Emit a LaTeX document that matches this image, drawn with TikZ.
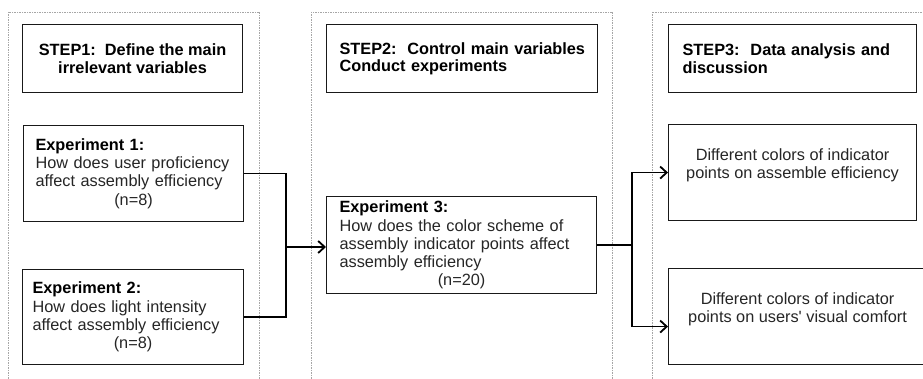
\documentclass[tikz,border=0pt]{standalone}
\usepackage{fontspec}
\newfontfamily\lsans{Liberation Sans}
\setmainfont{Liberation Sans}
\usetikzlibrary{arrows.meta}
\definecolor{txt}{HTML}{262626}
\begin{document}
\begin{tikzpicture}[x=1pt,y=-1pt,
  colbox/.style={draw=black!35, line width=0.6pt, dash pattern=on 1.5pt off 1pt},
  box/.style={draw=black!90, line width=1.1pt, rectangle, anchor=north west, inner sep=0pt,
    font=\lsans\fontsize{16.3}{18.2}\selectfont, text=txt},
  stepbox/.style={box, minimum height=68pt, font=\lsans\fontsize{16.3}{17.5}\selectfont\bfseries, text=black},
  conn/.style={draw=black, line width=1.8pt},
  arr/.style={conn, -{Straight Barb[length=6.5pt,width=12pt]}}
]
\clip (0,0) rectangle (923,379);
\fill[white] (0,0) rectangle (923,379);

% dashed columns
\draw[colbox] (8,12) rectangle (259,395);
\draw[colbox] (311,12) rectangle (612,395);
\draw[colbox] (652,12) rectangle (945,395);

% column 1
\node[stepbox, minimum width=220pt, align=center] (s1) at (22,24)
  {STEP1:\ \ Define the main\\irrelevant variables};
\node[box, minimum width=220pt, minimum height=96pt, text width=196pt, align=left] (e1) at (23,125)
  {\textbf{\color{black}Experiment 1:}\\How does user proficiency\\affect assembly efficiency\\\makebox[\hsize]{(n=8)}};
\node[box, minimum width=221pt, minimum height=95pt, text width=201pt, align=left] (e2) at (22,269)
  {\textbf{\color{black}Experiment 2:}\\How does light intensity\\affect assembly efficiency\\\makebox[\hsize]{(n=8)}};

% column 2
\node[stepbox, minimum width=271pt, text width=245pt, align=left] (s2) at (326,24)
  {\mbox{STEP2:\ \ Control main variables}\\\mbox{Conduct experiments}};
\node[box, minimum width=270pt, minimum height=97pt, text width=244pt, align=left] (e3) at (326,196)
  {\textbf{\color{black}Experiment 3:}\\\mbox{How does the color scheme of}\\\mbox{assembly indicator points affect}\\assembly efficiency\\\makebox[\hsize]{(n=20)}};

% column 3
\node[stepbox, minimum width=248pt, text width=220pt, align=left] (s3) at (668,24)
  {\mbox{STEP3:\ \ Data analysis and}\\discussion};
\node[box, minimum width=248pt, minimum height=96pt, align=center] (d1) at (668,124)
  {Different colors of indicator\\points on assemble efficiency\\\mbox{}};
\node[box, minimum width=258pt, minimum height=96pt, align=center] (d2) at (668,268)
  {Different colors of indicator\\points on users' visual comfort\\\mbox{}};

% connectors
\coordinate (j1) at (286,247);
\coordinate (j2) at (632,246);
\draw[conn] (e1.east) -| (j1) |- (e2.east);
\draw[arr] (j1) -- (j1 -| e3.west);
\draw[conn] (e3.east) -- (e3.east -| j2);
\draw[arr] (e3.east -| j2) |- (d1.west);
\draw[arr] (e3.east -| j2) |- ([yshift=-10pt]d2.west);
\end{tikzpicture}
\end{document}
